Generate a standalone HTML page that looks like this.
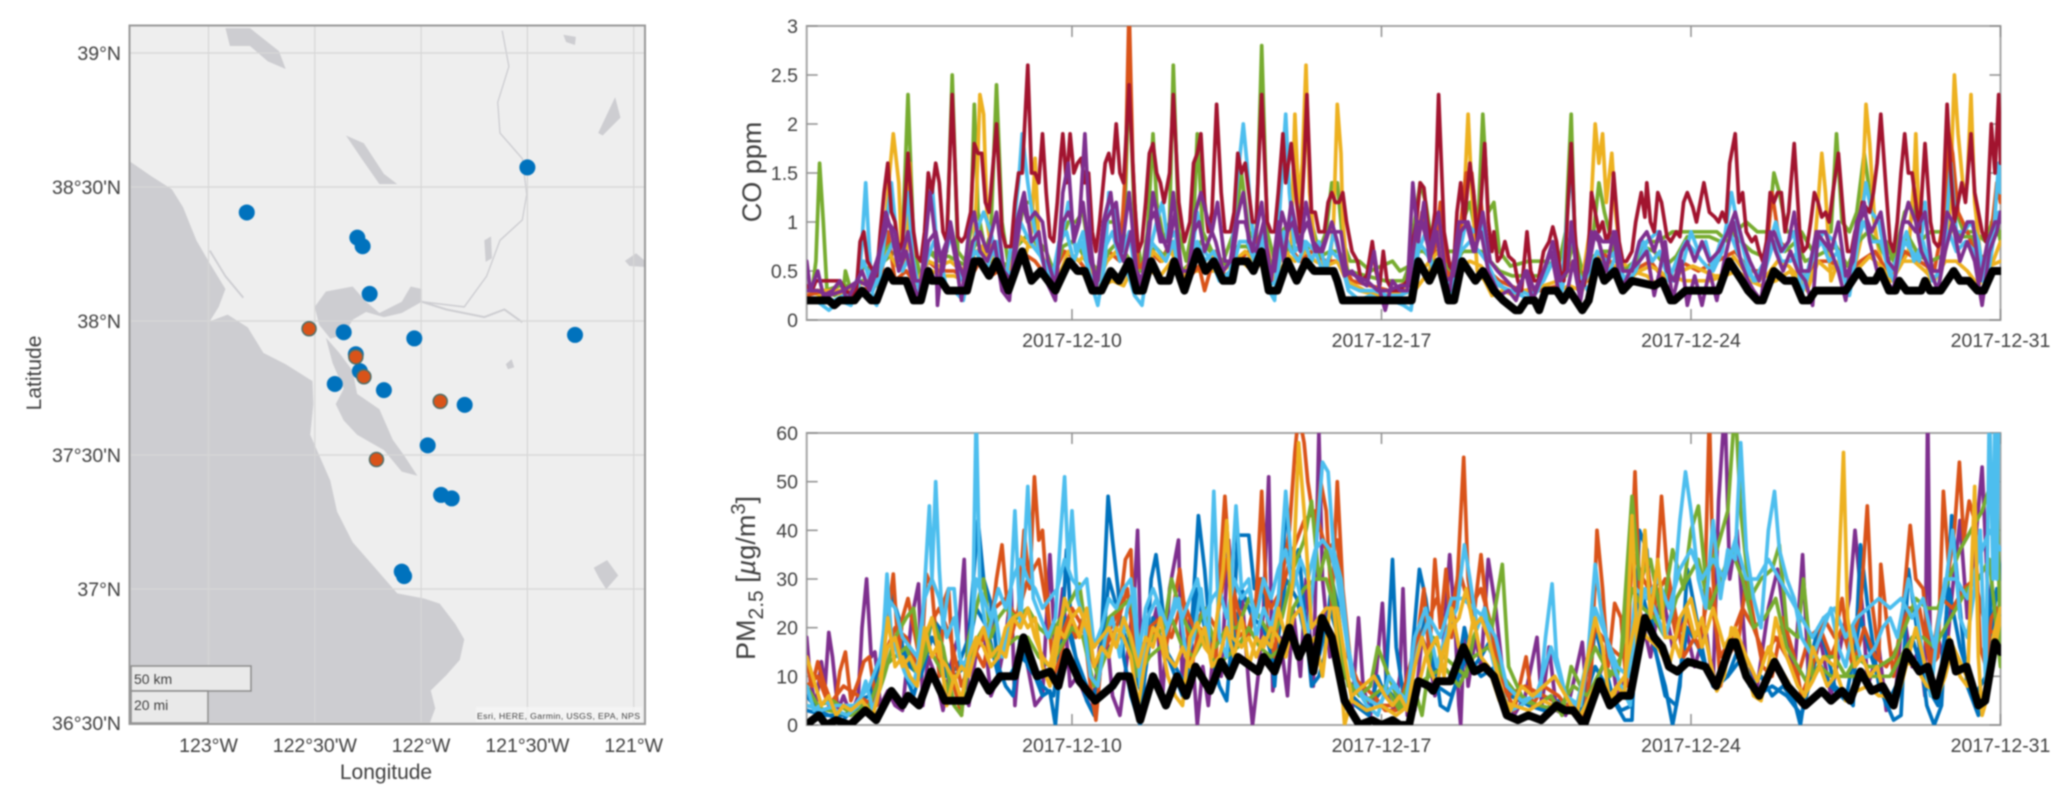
<!DOCTYPE html>
<html lang="en">
<head>
<meta charset="utf-8">
<title>Bay Area monitoring sites with CO and PM2.5 time series</title>
<style>
html,body{margin:0;padding:0;background:#fff;width:2067px;height:802px;overflow:hidden}
#figure{display:block;filter:blur(.9px)}
text{font-family:"Liberation Sans",Arial,sans-serif;fill:#404040}
</style>
</head>
<body>
<svg id="figure" xmlns="http://www.w3.org/2000/svg" width="2067" height="802" viewBox="0 0 2067 802">
<defs>
<clipPath id="map-clip"><rect x="130" y="26" width="515" height="698"/></clipPath>
<clipPath id="co-clip"><rect x="807" y="26" width="1194" height="294"/></clipPath>
<clipPath id="pm-clip"><rect x="807" y="433" width="1194" height="292"/></clipPath>
</defs>
<g id="map-panel">
<rect x="130" y="26" width="515" height="698" fill="#eeeeee"/>
<g clip-path="url(#map-clip)">
<g transform="scale(0.4464,0.5115)" fill="#cdcdd1" stroke="none">
<polygon points="290,315 340,345 385,370 410,405 440,470 470,515 505,565 490,600 470,628 510,615 555,640 590,690 640,712 700,745 702,790 695,850 715,890 740,940 755,1000 790,1060 840,1110 890,1160 950,1170 985,1180 1020,1220 1040,1250 1030,1290 1000,1320 965,1350 975,1385 960,1420 290,1420"/>
<polygon points="705,600 730,570 790,560 820,590 850,612 900,590 920,560 945,565 945,590 900,612 860,620 820,610 790,625 770,655 740,662 715,635"/>
<polygon points="730,660 760,690 790,725 800,770 850,800 880,860 905,890 935,930 900,922 860,880 800,850 770,822 752,790 770,760 745,710"/>
<polygon points="505,55 560,55 625,100 640,135 600,120 560,90 515,90"/>
<polygon points="775,265 815,280 860,340 890,360 850,360 810,310"/>
<polygon points="1340,260 1378,190 1390,230 1350,265"/>
<polygon points="1262,68 1290,72 1288,88 1268,82"/>
<polygon points="1400,510 1425,495 1445,510 1445,522 1410,520"/>
<polygon points="1330,1110 1360,1095 1385,1125 1358,1152 1342,1130"/>
<polygon points="1085,470 1100,462 1102,505 1088,512"/>
<polygon points="1133,712 1146,702 1152,718 1138,722"/>
<polyline fill="none" stroke="#cdcdd1" stroke-width="3" points="1125,60 1140,130 1115,200 1120,260 1170,310 1180,380 1170,430 1120,470 1090,540 1040,600 945,590"/>
<polyline fill="none" stroke="#cdcdd1" stroke-width="4" points="945,590 1000,605 1085,620 1130,605 1170,630"/>
<polyline fill="none" stroke="#cdcdd1" stroke-width="4" points="470,490 505,540 545,582"/>
</g>
</g>
<g id="map-grid"></g>
<g id="map-sites" clip-path="url(#map-clip)"></g>
<g>
<rect x="131" y="666" width="120" height="25" fill="#e9e9e9" stroke="#8c8c8c" stroke-width="1.5"/>
<text x="134" y="684" font-size="14">50 km</text>
<rect x="131" y="691" width="77" height="32" fill="#e9e9e9" stroke="#8c8c8c" stroke-width="1.5"/>
<text x="134" y="710" font-size="14">20 mi</text>
</g>
<rect x="476" y="707" width="166" height="15" fill="#f5f5f5" opacity=".8"/>
<text x="477" y="719" font-size="8.7" textLength="163">Esri, HERE, Garmin, USGS, EPA, NPS</text>
<rect x="129.5" y="25.5" width="515.5" height="698.5" fill="none" stroke="#999" stroke-width="2"/>
<text x="386" y="779" font-size="21" text-anchor="middle">Longitude</text>
<text transform="translate(41,373) rotate(-90)" font-size="21" text-anchor="middle">Latitude</text>
</g>
<g id="co-panel"></g>
<g id="pm-panel"></g>
<text transform="translate(761,172) rotate(-90)" font-size="27" text-anchor="middle">CO ppm</text>
<text transform="translate(755,578) rotate(-90)" font-size="27" text-anchor="middle">PM<tspan dy="8" font-size="21">2.5</tspan><tspan dy="-8"> [</tspan><tspan font-style="italic">µ</tspan><tspan>g/m</tspan><tspan dy="-10" font-size="20">3</tspan><tspan dy="10">]</tspan></text>
</svg>
<script>
// ---------- Map data (degrees) ----------
const lonTicks = [-123, -122.5, -122, -121.5, -121];
const lonTickLabels = ["123°W", "122°30'W", "122°W", "121°30'W", "121°W"];
const latTicks = [39, 38.5, 38, 37.5, 37, 36.5];
const latTickLabels = ["39°N", "38°30'N", "38°N", "37°30'N", "37°N", "36°30'N"];
const blueSiteLon = [-121.50, -122.82, -122.30, -122.275, -122.242, -122.364, -122.032, -121.276, -122.307, -122.288, -122.406, -122.175, -121.795, -121.969, -121.906, -121.856, -122.091, -122.08];
const blueSiteLat = [38.573, 38.405, 38.311, 38.279, 38.101, 37.958, 37.935, 37.948, 37.876, 37.813, 37.765, 37.742, 37.687, 37.536, 37.351, 37.338, 37.065, 37.048];
const orangeSiteLon = [-122.527, -122.307, -122.269, -121.910, -122.210];
const orangeSiteLat = [37.971, 37.866, 37.792, 37.700, 37.483];

// ---------- Time axis (hours since 2017-12-04 00:00) ----------
const timeTicks = [144, 312, 480, 648];
const timeTickLabels = ["2017-12-10", "2017-12-17", "2017-12-24", "2017-12-31"];
const coTicks = [0, 0.5, 1, 1.5, 2, 2.5, 3];
const coTickLabels = ["0", "0.5", "1", "1.5", "2", "2.5", "3"];
const pmTicks = [0, 10, 20, 30, 40, 50, 60];
const pmTickLabels = ["0", "10", "20", "30", "40", "50", "60"];

// ---------- CO series: alternating hour, ppm ----------
const coGreen = [0,.3,3,.3,5,.6,7,1.6,9,1.0,11,.3,15,.25,20,.3,21,.5,24,.3,30,.4,36,.4,42,.6,48,.7,52,.8,55,2.3,58,.8,62,.4,66,.7,72,.6,76,.7,79,2.5,82,.7,86,.6,89,.9,91,2.2,93,1.1,97,.7,100,.9,103,2.4,106,1.0,110,.5,114,.8,118,1.2,122,1.2,126,.8,130,.7,134,.5,138,.8,142,1.0,146,1.0,150,1.1,154,.6,158,.5,162,1.0,168,1.0,172,.7,175,2.5,178,1.0,182,.5,185,.9,188,1.9,190,1.2,194,.8,197,1.0,199,2.6,202,.9,206,.6,210,1.0,212,1.9,215,.9,220,.7,226,.6,232,.9,236,1.5,240,.9,244,.8,247,2.8,250,.9,254,.6,258,.9,262,1.0,266,.8,268,1.0,271,2.4,274,1.0,278,.7,282,.9,285,1.4,288,1.4,291,.8,295,.6,300,.6,306,.5,312,.55,318,.6,322,.5,327,.55,330,1.0,333,1.4,336,1.2,340,.7,346,.7,352,.7,356,1.0,360,1.2,364,.8,367,2.1,370,1.1,373,1.2,376,.7,382,.55,392,.6,400,.6,408,.55,412,.9,415,2.1,417,.8,421,.5,426,.7,430,1.4,433,1.1,437,.8,442,.5,450,.6,456,.8,462,.8,470,.9,478,.9,486,.9,494,.9,500,.8,504,.9,510,1.0,516,.9,522,.9,525,1.5,528,1.3,532,.9,536,.9,540,.9,546,.7,552,.9,556,.9,559,1.9,562,1.0,566,.9,570,1.1,574,1.7,577,1.3,581,.8,586,.8,590,.6,596,1.1,600,1.2,604,.8,610,.9,616,.9,621,1.8,624,1.1,628,.9,634,.9,640,.8,645,1.1,648,.8];
const coYellow = [0,.3,8,.25,14,.3,20,.25,30,.3,38,.35,42,.8,45,1.5,47,1.9,50,1.4,52,.5,54,.6,56,1.6,58,.5,62,.3,68,.5,74,.45,80,.45,86,.4,90,.5,92,1.2,94,2.3,96,2.1,98,1.0,102,.5,106,.5,112,.6,118,.6,122,.9,124,1.65,126,.8,130,.5,136,.35,142,.6,148,.5,154,.4,160,.35,166,.4,172,.35,176,.5,180,.3,186,.5,192,.45,198,.6,204,.4,210,.5,216,.5,222,.5,228,.45,236,.6,242,.5,248,.6,254,.4,260,.6,263,.8,265,2.1,267,1.2,269,1.6,271,2.6,273,1.3,276,.7,280,.6,284,.6,286,1.0,288,2.2,290,1.7,291,1.0,294,.4,300,.3,310,.25,320,.25,330,.3,338,.5,343,.9,348,.3,352,.35,356,.9,359,2.1,361,1.3,364,.5,368,.4,372,.25,378,.3,384,.25,392,.3,400,.35,408,.3,414,.35,420,.3,425,.9,428,2.0,430,1.6,432,1.9,434,1.2,437,1.7,439,1.1,442,.6,448,.5,456,.45,462,.35,470,.45,476,.4,484,.4,490,.4,498,.45,505,.5,512,.4,518,.35,526,.4,534,.5,540,.3,546,.5,549,1.2,551,1.7,553,1.3,556,.4,560,.6,566,.3,572,.8,575,2.2,577,1.8,580,.9,586,.35,592,.5,598,.7,601,1.4,602,1.9,604,.9,610,.4,616,.5,620,.9,623,2.5,625,1.9,628,1.3,630,1.4,632,2.3,634,1.2,638,.5,644,.6,648,.8];
const coOrange = [0,.25,10,.3,20,.3,30,.3,40,.4,44,.9,48,.4,54,.5,60,.35,66,.6,72,.5,80,.5,88,.4,94,.6,100,.45,108,.55,116,.7,124,.6,132,.4,140,.7,148,.6,156,.4,164,.7,170,.6,173,1.5,175,3.2,177,1.6,180,.5,186,.7,192,.6,198,.8,206,.4,213,.55,216,.3,222,.7,228,.4,234,.6,240,.7,248,.9,254,.4,260,.8,268,.6,274,.7,282,.6,290,.6,296,.4,306,.35,316,.3,328,.4,334,1.1,340,.6,344,1.2,348,.4,354,.8,358,1.5,361,1.5,364,.9,366,1.2,370,.5,376,.4,388,.3,398,.3,408,.35,416,.6,424,.4,432,.7,440,.5,448,.5,458,.6,466,.4,474,.6,484,.5,494,.6,504,.7,512,.5,520,.5,524,1.3,528,.8,534,.7,540,.4,548,.6,556,.6,564,.45,572,.6,580,.7,588,.45,596,.7,604,.6,612,.5,617,1.0,620,1.9,622,1.7,625,1.1,630,.9,636,.6,642,.7,646,1.4,648,1.2];
const coCyan = [0,.2,5,.2,12,.1,18,.2,24,.15,28,.3,30,.8,32,1.4,34,.7,36,.2,38,.15,42,.8,44,1.1,46,1.4,48,1.0,50,.5,52,.8,55,1.3,58,.5,62,.25,66,1.2,68,1.4,70,.9,73,.6,76,.3,80,.3,85,.2,88,.5,92,.9,96,1.1,100,.9,104,.5,108,.4,112,.9,115,1.4,117,1.9,120,1.4,123,1.0,126,.7,130,.5,134,.3,138,.8,142,1.2,146,.7,150,.9,154,.4,158,.15,162,.6,164,1.3,167,1.1,170,.8,174,.5,178,.25,182,.15,186,.7,190,1.0,193,1.2,196,.8,200,.9,204,.3,208,.5,212,1.1,216,.7,220,.6,224,.4,230,.5,233,1.3,237,2.0,239,1.6,241,1.1,244,.6,248,.9,251,.3,254,.2,257,1.2,260,2.1,262,1.3,265,.7,270,.8,274,.6,278,.8,282,.5,286,.9,290,.6,294,.3,300,.2,306,.25,312,.2,318,.2,324,.15,328,.1,332,.7,336,.9,340,.5,344,.5,348,.2,352,.5,358,1.0,362,.9,366,1.0,370,.5,376,.35,382,.3,388,.25,392,.2,397,.3,404,.7,410,.4,415,1.6,418,.5,424,.3,430,.6,436,.5,440,.7,444,.35,450,.5,456,.8,462,.9,466,.7,470,.4,476,.6,480,.9,484,.7,488,.8,492,.5,497,.7,502,1.3,506,.9,510,.6,514,.4,520,.6,526,1.0,530,.7,536,.9,540,.25,546,.7,552,.9,558,.8,562,.5,566,.25,570,.7,575,1.4,578,1.1,582,1.0,586,.6,590,.4,596,.8,600,.7,604,.6,607,1.2,610,.5,614,.3,618,.8,621,1.6,624,.9,628,.9,632,1.0,636,.8,640,.3,644,.8,647,1.6,648,1.3];
const coDarkRed = [0,.35,3,.3,5,.4,8,.4,12,.4,18,.4,21,.3,25,.25,27,.3,29,.8,31,.9,33,.6,36,.5,38,.45,40,.9,42,1.3,44,1.6,46,1.1,48,1.0,50,.7,52,.8,55,1.7,58,.9,60,.65,62,.6,64,.9,66,1.5,68,1.3,70,1.6,72,1.4,74,.9,76,.8,79,2.3,82,.85,84,.8,86,.85,89,1.1,91,1.8,93,1.7,95,1.7,97,1.2,99,1.1,103,2.0,106,.9,108,.75,111,.75,113,1.2,115,1.5,117,1.5,120,2.6,122,1.5,124,1.5,126,1.4,128,1.9,130,1.3,132,.85,134,.8,136,1.2,138,1.7,139,1.9,141,1.4,143,1.9,145,1.5,147,1.6,149,1.65,151,1.4,153,1.5,155,.9,157,.7,159,1.0,162,1.6,164,1.7,166,1.5,168,2.0,170,1.5,172,1.4,175,2.4,178,1.2,180,.7,182,.8,184,1.2,186,1.7,188,1.8,190,1.5,192,1.4,194,1.2,197,1.5,199,2.3,202,1.2,205,.8,208,1.0,210,1.6,212,1.7,214,1.9,216,1.2,218,.9,220,1.1,222.5,2.2,225,1.3,227,.9,230,.9,232,1.1,234,1.7,236,1.5,238,1.6,240,1.3,242,1.0,244,1.0,247,2.3,250,1.0,252,.9,254,.9,256,1.3,258.5,1.9,260,1.4,263,1.8,266,1.2,268,.9,270,1.6,271.5,2.3,274,1.1,276,1.1,278,.9,281,.9,283,1.2,285,1.3,287,1.2,289,1.2,291,1.3,293,1.0,296,.7,299,.6,301,.4,304,.45,307,.8,309,.5,311,.35,313,.7,315,.4,318,.3,322,.3,326,.4,329,.8,331,1.0,333,1.4,335,1.35,337,1.0,339,.8,341,1.1,343,2.3,346,.9,349,.55,351,.5,353,1.1,355,1.4,357,1.0,360,1.6,362,1.3,364,.8,366,1.2,368,1.8,370,1.0,372,.7,373,.9,375,.6,377,.65,379,.8,381,.65,384,.6,386,.4,388,.3,391,.9,393,.5,395,.4,397,.4,400,.7,403,.8,405,.95,407,.8,409,.5,411,.4,413,1.1,415,1.8,417,.9,419,.4,422,.35,424,.6,426,1.3,428,1.1,430,.9,432,1.0,434,.8,436,.9,438,1.5,441,.8,443,.6,445,.6,448,.7,450,1.0,453,1.3,455,1.05,456,1.4,458,1.0,460,.9,462,1.3,464,1.2,467,.85,469,.8,472,.9,474,.85,476,1.2,478,1.3,481,1.15,483,1.0,485,1.2,487,1.4,490,1.1,493,1.05,495,1.0,497,1.1,499,1.0,501,1.6,504,1.9,506,1.2,508,1.3,510,.9,513,.8,515,.85,517,.7,519,.6,521,.8,523,1.3,525,1.2,527,1.3,529,1.3,531,.9,533,1.1,536,1.8,539,.9,541,.7,543,.75,545,1.0,547,1.3,549,1.2,551,1.05,553,1.1,555,1.0,557,1.3,560,1.7,563,1.0,565,.7,567,.7,569,.9,571,1.0,573,1.2,575,1.15,577,1.1,579,1.3,581,1.6,583,2.1,586,1.3,588,.8,590,.7,592,1.0,594,1.5,596,1.9,598,1.5,600,1.5,602,1.2,604,.9,607,1.8,610,1.0,612,.8,614,.75,616,.8,619,2.2,621,1.5,623,1.0,625,1.2,627,1.4,629,1.2,632,1.9,634,1.3,636,1.1,638,.9,640,.8,643,2.0,645,1.5,647,2.3,648,1.6];
const coPurple = [0,.6,2,.3,6,.5,9,.25,14,.3,18,.4,22,.2,26,.35,30,.5,34,.3,38,.5,43,1.1,46,.9,50,.5,54,.7,58,.35,61,.2,65,.9,67,1.3,70,.8,71,.15,74,.7,78,.9,81,.6,84,.2,88,.9,91,1.1,94,.7,98,.6,102,.8,106,.3,110,.2,114,1.0,118,1.3,122,.8,126,.9,130,.4,135,.2,139,1.3,142,1.6,145,.8,148,1.0,151,1.9,154,.8,157,.3,161,1.0,165,1.3,168,.8,172,.6,176,.9,180,.35,184,.5,188,1.3,192,.9,196,.7,200,1.1,204,.4,207,.35,211,1.1,214,1.3,218,1.0,222,.8,226,.5,230,.6,233,1.0,237,1.3,240,.8,244,.7,248,1.0,252,.4,256,1.0,259,.6,263,1.2,267,.8,272,1.0,276,.7,280,.7,285,1.0,288,.8,292,.45,296,.5,300,.4,304,.35,308,.7,311,.3,314,.1,318,.4,322,.3,326,.3,329,1.4,332,.8,335,1.2,338,.6,342,.9,345,.4,349,.3,354,1.0,358,1.0,362,.7,366,.9,370,.5,376,.25,381,.3,385,.2,390,.5,394,.2,400,.5,404,.7,408,.3,412,.2,416,.6,420,.2,426,.9,430,.8,434,.5,438,.9,442,.3,447,.5,452,.6,456,.7,460,.25,463,.5,466,.8,470,.2,475,.6,478,.15,482,.45,486,.15,490,.5,494,.2,498,.6,503,1.0,507,.6,511,.4,514,.3,518,.2,523,.9,526,.7,530,.5,534,.7,538,.5,542,.4,546,.15,549,.9,553,.9,556,.7,560,.5,564,.2,570,1.0,574,1.2,577,.8,581,.5,586,.4,590,.3,594,.9,598,1.2,602,1.0,605,.7,610,.5,614,.3,618,.7,622,1.0,626,.6,630,.8,634,.6,638,.15,642,.7,646,.9,648,1.1];
const coPurpleBand = [0,.3,6,.3,12,.25,20,.3,28,.4,33,.35,38,.6,44,1.0,48,.9,51,.6,55,.9,59,.4,63,.4,66,.8,70,.9,74,.5,78,1.0,82,.6,86,.4,90,.8,94,.9,98,.7,103,1.1,107,.5,111,.4,115,.9,117,1.2,120,1.0,124,1.1,128,1.0,131,.6,135,.35,139,1.0,142,1.1,146,.9,150,1.2,154,.6,158,.4,162,1.0,165,1.1,168,1.2,171,.7,175,1.3,179,.5,182,.4,186,1.0,189,1.1,192,.8,196,.8,199,1.3,203,.5,207,.5,210,.9,213,1.0,216,.7,220,.9,223,1.2,227,.6,231,.6,234,1.0,238,1.0,242,.7,247,1.2,251,.5,254,.5,258,1.1,261,.9,264,1.0,268,.7,271,1.2,275,.8,279,.7,283,.9,286,.9,290,.9,293,.5,298,.45,304,.4,310,.3,316,.3,322,.35,327,.35,331,1.0,334,1.0,338,.7,343,1.1,347,.4,351,.45,355,.9,359,1.0,363,.7,367,1.1,371,.6,375,.5,380,.4,385,.3,391,.5,395,.3,400,.5,405,.8,409,.4,413,.5,415,1.0,419,.3,424,.5,428,.9,432,.8,436,.8,439,.9,443,.5,448,.5,452,.8,456,.9,460,.7,463,.9,467,.5,471,.4,475,.7,478,.8,482,.6,486,.8,490,.6,495,.7,500,.9,504,1.1,508,.8,512,.6,517,.4,522,.8,525,.9,529,.7,533,.8,536,1.1,540,.5,544,.5,548,.9,552,.8,556,.7,560,1.0,564,.45,568,.6,571,1.0,574,1.1,578,.9,583,1.1,587,.6,591,.5,595,1.0,598,1.0,602,.9,607,1.1,611,.5,615,.5,619,1.1,622,1.0,626,.8,630,1.0,633,1.0,637,.4,641,.8,645,1.0,648,1.0];
const coCyanBand = [0,.22,7,.2,15,.2,25,.3,31,.6,36,.3,42,.6,47,.8,52,.5,57,.7,61,.3,65,.6,69,.8,74,.6,79,.9,83,.4,88,.6,92,.7,97,.5,103,.8,107,.45,112,.5,116,1.0,121,.8,125,.7,129,.6,133,.4,137,.8,141,.9,145,.6,149,.8,153,.5,157,.3,161,.7,166,.9,170,.6,175,.9,179,.4,183,.35,187,.8,191,.7,195,.6,199,.8,203,.4,207,.4,212,.8,216,.6,221,.7,226,.4,231,.5,235,.8,239,.8,243,.6,247,.9,251,.35,255,.4,259,.9,263,.7,267,.6,271,.8,276,.7,280,.5,285,.7,290,.6,294,.35,300,.3,308,.3,315,.25,322,.25,328,.3,332,.8,336,.7,341,.5,345,.5,350,.3,355,.7,360,.8,365,.7,369,.6,374,.4,380,.3,387,.3,393,.25,400,.4,405,.6,410,.3,415,.9,420,.3,425,.5,429,.7,434,.6,439,.7,444,.4,449,.6,454,.8,459,.6,463,.7,468,.4,472,.6,477,.8,482,.7,486,.6,491,.5,496,.8,501,.9,505,.7,510,.5,515,.4,520,.5,525,.8,529,.6,534,.6,538,.7,542,.35,547,.7,551,.8,555,.6,560,.7,565,.35,570,.8,574,1.0,578,.8,583,.8,588,.45,593,.7,597,.9,601,.6,606,.8,611,.4,615,.5,620,.9,624,.7,629,.8,634,.7,638,.4,643,.8,647,1.1,648,1.0];
const coGreenBand = [0,.3,10,.3,18,.35,26,.35,31,.55,36,.5,42,.7,47,.8,53,.7,58,.55,62,.45,67,.7,72,.65,77,.65,82,.6,87,.55,92,.8,97,.65,102,.7,108,.55,114,.75,119,.85,124,.8,129,.6,134,.45,139,.75,144,.8,149,.7,154,.5,159,.45,164,.7,169,.8,174,.65,179,.5,184,.5,189,.75,194,.65,199,.8,204,.5,209,.6,214,.8,219,.7,224,.6,229,.55,234,.75,239,.75,244,.65,249,.7,254,.5,259,.7,264,.75,269,.7,274,.75,279,.65,284,.7,289,.7,294,.5,304,.45,314,.4,324,.4,330,.7,335,.7,340,.6,345,.6,350,.5,356,.7,361,.7,366,.7,371,.6,376,.5,383,.45,391,.45,399,.45,406,.6,412,.45,416,.8,421,.4,427,.65,432,.7,437,.7,442,.5,448,.55,454,.75,460,.7,466,.55,472,.65,478,.85,484,.85,490,.85,496,.8,502,.9,507,.8,513,.7,519,.65,525,.8,531,.7,537,.8,542,.6,548,.65,553,.7,559,.75,565,.55,571,.8,576,.9,581,.8,587,.6,593,.75,598,.85,604,.65,610,.6,616,.65,622,.95,627,.85,633,.85,639,.5,644,.85,648,.9];
const coYellowBand = [0,.3,12,.3,24,.3,32,.4,38,.4,44,.7,49,.55,55,.65,60,.4,66,.6,72,.55,78,.6,84,.5,90,.65,95,.75,100,.6,105,.55,110,.5,116,.85,121,.75,126,.75,131,.5,136,.4,142,.7,148,.6,152,.7,157,.35,163,.6,168,.7,174,.6,178,.4,183,.4,188,.7,193,.6,198,.7,204,.4,210,.7,215,.6,220,.65,226,.5,232,.6,238,.7,243,.6,248,.75,253,.4,259,.7,265,.6,271,.7,276,.6,282,.55,288,.6,293,.4,303,.3,313,.25,323,.3,330,.55,336,.55,343,.7,348,.3,354,.55,360,.6,366,.55,372,.4,380,.3,390,.3,400,.35,408,.4,416,.55,421,.3,428,.65,434,.55,440,.55,445,.4,452,.5,458,.55,463,.5,469,.4,475,.5,481,.55,487,.5,493,.45,499,.45,503,.65,509,.5,515,.4,521,.45,527,.6,533,.55,538,.45,543,.3,549,.6,555,.5,561,.6,566,.4,572,.55,577,.65,583,.55,589,.4,595,.6,601,.6,607,.5,612,.4,618,.6,624,.6,630,.5,636,.35,642,.55,648,.6];
const coBlack = [0,.2,12,.2,15,.15,18,.2,26,.2,30,.3,35,.2,38,.2,44,.5,47,.4,54,.4,58,.2,62,.2,66,.5,68,.4,73,.4,76.5,.3,87,.3,91,.6,94,.6,99,.45,103,.6,109.5,.3,117,.7,122,.4,127,.5,135,.3,142.5,.6,147,.5,151,.5,155,.3,160,.3,165,.5,169.5,.4,175,.6,179,.3,182.5,.3,187,.6,192,.4,196.6,.4,199.5,.6,205,.3,212,.7,216.6,.5,221,.6,226,.4,231,.4,233,.6,239,.6,242.5,.5,246.8,.7,250.8,.3,255.5,.3,261,.6,266,.4,271,.6,275.5,.5,286,.5,288,.4,291,.2,328.4,.2,332,.6,338,.4,343,.6,348.3,.2,351.4,.2,355.8,.6,363,.4,367,.5,373,.3,378,.2,384.7,.1,387,.1,390.5,.2,395,.2,397.6,.1,401,.3,407,.3,410.5,.2,414,.3,417.5,.2,421,.1,424.5,.2,429,.6,433,.4,438.6,.5,443,.3,448,.4,460,.35,464.4,.4,469,.2,471,.2,477,.3,495,.3,500.7,.6,507.7,.4,511,.3,516,.2,519,.2,525,.5,531,.4,536,.4,540.6,.2,544,.2,547.6,.3,564,.3,571,.5,574.6,.4,580,.4,582.8,.5,587.5,.3,591,.3,593,.4,597,.3,605,.3,607,.4,609.7,.3,615.6,.3,622.6,.5,626,.4,630.8,.4,635.5,.3,639,.3,643.7,.5,648,.5];

// ---------- PM2.5 series: alternating hour, ug/m3 ----------
const pmPurple = [0,18,2,9,5,4,8,13,10,8,12,19,14,14,17,3,20,6,24,2,28,6,30,20,32.5,30,35,14,37,15,40,4,44,7,48,4,52,3,57,22,60.7,29,63,4,66,14,70,10,74,3,78,12,82,18,85.5,34,88,4,92,15,96,20,100,6,104,10,108,18,111,28,113,4,116,18,120,12,124,4,128,6,132,35,135,14,139,28,143,8,147,10,151,6,155,3,159,16,163,18,166,6,170,2,174,14,178,28,179.6,40,182,8,186,18,190,24,193,5,197,28,201.8,38,204,8,208,22,212,0,215,12,218,4,221,16,225,10,229,38,233,18,236,28,240,8,242,0,245,10,248,24,250.8,51,253,7,257,18,261,6,264,24,268,10,271,30,275,8,278,60,280,30,284,14,288,18,292,6,296,3,299.5,22,302,8,306,2,309,10,312.5,25,315,6,319,3,322,10,323.7,28,326,2,330,3,334,18,338,14,341,6,345,14,349,35,352,20,354,4,355,0,357,20,359,8,363,18,366,12,370,34,374,24,378,10,384,2,390,6,396.4,18,399,4,403,16,407,3,412,2,417,10,421,17,424,3,430,10,436,16,440,6,446,12,452,24,458,14,464,28,470,16,476,22,482,12,488,20,492,8,495,46,498.4,66,501,30,505,40,510,12,516,8,522,24,527,32,532,18,536,10,540.6,35,544,8,550,18,556,6,562,18,566,26,569,40,573,24,576,8,582,16,586,3,591,6,595,24,600,12,604,16,607,6,608.5,66,610,10,614,18,618,12,622,28,626,42,630,22,634,36,638,53,641,28,644,18,648,26];
const pmBlue = [0,6,6,3,12,2,20,1,28,5,34,6,40,12,46,27,50,22,54,10,58,6,64,14,68,22,72,20,76,10,82,12,88,18,93,42,96,30,100,25,104,12,108,8,112,6,116,18,120,12,124,10,128,6,132,7,135,0,138,14,141,36,144,18,148,10,152,5,156,2,160,18,163.6,47,166,38,169,28,172,14,176,6,181,0,184,12,187,30,189.6,35,192,28,196,14,200,10,204,6,208,14,212.6,43,216,32,220,14,224,8,228,5,232,24,234,39,240,39,243,28,247,30,250,22,254,8,258,28,260,47,263,32,267,36,270,24,274,8,278,10,281,14,285,30,288,25,292,12,298,4,305,2,310,10,314,6,318,34,320,16,324,6,328,12,332.6,32,336,26,339,18,344,4,348,3,352,8,357,20,362,12,366,14,372,18,376,10,384,6,392,4,400,3,408,5,416,3,424,6,428,20,432,14,438,5,444,1,448,1,452,40,456,36,460,16,466,8,470,0,474,8,478,32,483,22,488,12,494,8,500,10,506,16,512,8,518,10,524,6,530,8,536,5,539.4,0,544,12,549,20,553,16,558,8,564,6,568,4,572,37,576,24,582,8,590,1,594,2,598,32,604,16,608,4,612,0,616,4,621.5,43,625,28,630,8,636,2,640,6,645,42,648,30];
const pmBlueBand = [0,3,10,2,20,2,30,4,38,6,44,16,50,18,56,12,62,10,68,18,74,14,80,10,86,12,92,24,98,20,104,10,110,10,116,14,122,12,128,8,134,6,140,22,146,14,152,8,158,6,164,30,170,22,176,14,182,6,188,22,194,16,200,12,206,8,212,28,218,16,224,12,230,10,236,28,242,22,248,20,254,12,260,30,266,26,272,16,278,14,284,24,290,16,296,6,304,3,314,8,322,4,330,14,336,22,342,8,350,6,358,14,366,10,374,12,382,6,392,4,402,3,412,4,420,3,428,12,434,8,442,3,448,4,453,28,458,20,466,6,472,4,478,20,484,16,492,8,500,10,508,14,516,6,524,8,532,6,540,2,548,14,556,8,564,5,572,22,578,14,586,4,594,10,600,18,608,8,614,4,620,28,626,16,634,6,640,10,646,28,648,24];
const pmOrange = [0,13,3,8,6,13,9,9,12,6,15,3,18,11,21,15,24,5,28,9,31,13,34,14,38,4,42,16,47,31,50,14,52,22,55,26,58,20,62,12,65,31,68,28,72,10,75,26,77,28,80,8,84,2,88,18,92,15,96,12,100,20,103,30,106,37,108,28,111,18,115,24,118,40,121,28,123.6,51,126,38,128,40,131,24,134,10,138,14,142,22,146,18,150,22,154,8,157,1,160,14,165,20,170,24,173,34,176,36,178,16,182,10,186,18,190,20,194,14,198,22,202.5,32,205,24,209,12,213,20,218,18,222,12,224,30,227,47,230,30,234,18,240,20,244,26,247,48,250,22,254,14,258,30,262,40,265,56,267,64,270,58,272,50,276,40,279,50,282,44,285,24,288,50,291,28,296,10,302,8,308,6,314,3,320,3,326,8,330,14,335,28,338,14,341,34,344,20,347,32,350,18,353,28,356.6,55,359,30,362,22,366,35,369,24,372,18,377,10,384,3,390.5,14,394,4,400,8,408,6,414,3,422,2,426,12,429,40,432,28,435,12,438.6,25,442,22,445,8,449.6,52,452,28,456,34,460,22,464,47,467,32,471,24,476,14,482,18,487,20,490,64,492,30,496,8,500,14,506,18,510,30,514,22,519,12,524,10,530,22,536,14,540,6,546,12,552,22,558,18,562,26,566,14,572,24,575.7,45,578,26,582,14,583,33,586,22,590,10,595,24,599,41,602,30,606,28,610,12,614,14,617,48,620,32,623,40,625.7,54,628,38,631,46,634,42,637,16,640,12,643,22,646,24,648,20];
const pmOrangeBand = [0,8,6,10,12,4,20,8,28,6,36,4,42,14,48,20,54,18,60,12,66,20,72,24,78,18,84,8,90,14,96,18,102,24,108,26,114,22,120,30,126,34,132,20,138,18,144,24,150,20,156,12,162,16,168,20,174,28,180,10,186,20,192,22,198,18,204,26,210,20,216,24,222,20,228,34,234,24,240,18,246,30,252,24,258,28,264,36,270,42,276,44,282,36,288,38,294,14,302,6,312,4,322,4,330,16,336,20,342,26,348,18,354,32,360,24,366,28,372,20,380,6,390,8,400,6,410,4,420,4,428,20,436,16,442,14,448,36,454,30,460,26,466,30,472,18,478,22,484,16,490,28,496,14,502,18,508,24,514,20,520,14,526,18,532,14,538,10,544,18,550,20,556,14,562,20,568,12,574,20,580,14,586,12,592,16,598,24,604,24,610,12,616,26,622,24,628,28,634,30,640,20,648,18];
const pmGreen = [0,8,6,4,14,5,22,3,30,4,36,3,42,10,48,18,54,22,58,24,62,12,68,22,74,16,80,4,84,2,88,18,92,24,96,30,100,18,104,22,108,24,114,22,120,24,126,20,132,18,138,22,144,26,148,29,152,18,158,10,164,22,170,24,176,26,182,14,188,18,194,20,198,30,204,22,210,18,216,24,222,16,228,20,234,20,240,26,246,22,252,18,258,22,264,32,270,38,274,46,278,30,282,36,286,28,292,10,300,6,306,8,310,16,316,10,322,4,328,10,334,2,340,18,346,14,352,12,358,10,362,18,368,24,372,20,377.6,33,381,12,388,6,396,4,404,6,410,2,415,12,420,8,428,16,436,10,442,14,448,47,452,30,458,34,464,22,470,36,476,28,480,40,484,45,488,30,494,36,500,44,504,66,507,44,512,26,518,30,524,32,528,37,532,20,538,18,541,30,546,10,552,14,558,14,564,10,570,14,576,12,582,12,590,14,596,20,602,26,608,24,614,24,620,30,626,36,632,40,638,44,643,50,646,50,648,14];
const pmGreenBand = [0,4,12,3,24,2,34,4,42,12,48,14,54,16,60,10,66,16,72,12,78,6,84,4,90,16,96,20,102,14,108,16,114,18,120,18,126,14,132,12,138,16,144,20,150,18,156,8,162,14,168,18,174,20,180,10,186,14,192,16,198,22,204,16,210,14,216,18,222,12,228,14,234,16,240,20,246,16,252,14,258,16,264,24,270,28,276,30,282,30,288,22,294,8,304,5,314,8,322,3,330,8,338,10,346,12,354,8,362,14,370,16,378,10,388,5,398,4,408,3,416,8,424,6,432,12,440,10,448,28,454,24,460,22,466,18,472,26,478,30,484,34,490,24,496,30,502,36,508,30,514,20,520,22,526,26,532,16,538,12,544,8,550,12,556,10,562,10,568,10,574,10,580,10,588,10,594,14,600,18,606,18,612,16,618,20,624,24,630,28,636,30,642,34,648,12];
const pmCyan = [0,8,4,3,10,5,16,3,22,2,28,4,32,9,36,3,40,8,43.6,31,46,18,50,14,54,10,58,8,62,16,66.6,45,68,30,70,50,72,32,74,20,77,28,80,28,83,14,87,10,90,20,92,64,94,28,98,18,102,24,106,14,110,22,113,44,116,20,120,49,123,26,127,22,131,18,135,22,138,40,140,51,142,32,144,44,147,26,150,22,154,10,158,8,162,18,166,22,170,14,174,24,178,28,181,8,185,22,190,26,194,18,198,22,202,26,206,14,210,18,214,28,218,16,221,48,224,18,228,14,233,45,236,28,240,30,244,18,248,24,252,20,256,26,260,48,263,34,267,28,272,18,276,34,280,54,283,52,286,36,290,30,294,16,298,8,304,4,310,2,316,10,320,8,325,4,330,18,336,24,342,12,348,20,353,24,357,37,360,30,364,20,368,24,372,14,376,8,382,3,388,4,394,6,398,6,401,18,404.6,29,407,14,412,6,418,4,424,14,428,33,431,24,436,14,442,8,447,4,450,20,455,28,460,24,466,18,470,24,474,42,477,52,480,44,484,30,488,24,492,42,496,26,500,36,504,34,507,58,510,36,514,26,518,20,522,40,525.3,48,528,36,532,30,536,26,540,18,546,14,552,20,556,24,560,16,564,12,568,20,572,14,576,14,580,16,584,20,588,22,592,18,598,30,602,24,606,14,610,6,614,20,618,28,622,40,626,22,630,18,634,28,637,40,640,8,642,66,644,30,645,66,646,30,647,66,648,66];
const pmCyanBand = [0,4,8,3,16,4,26,4,34,8,40,14,44,26,48,24,52,18,56,16,60,14,64,26,68,30,72,26,76,18,80,22,84,12,88,14,92,30,96,26,100,22,104,28,108,24,112,30,116,34,120,30,124,28,128,24,132,26,136,28,140,34,144,30,148,28,152,30,156,16,160,20,164,26,168,24,172,28,176,30,180,14,184,24,188,28,192,24,196,20,200,26,204,22,208,26,212,30,216,22,220,26,224,28,228,22,232,30,236,26,240,28,244,22,248,30,252,26,256,32,260,36,264,28,268,34,272,30,276,36,280,38,284,36,288,30,292,20,296,10,302,6,310,4,318,8,326,5,332,16,338,22,344,18,350,26,356,26,362,24,368,22,374,18,380,8,388,5,396,6,404,16,412,6,420,4,428,24,434,18,440,12,446,10,450,28,456,26,462,30,468,24,474,32,480,36,486,30,492,34,498,30,504,38,510,30,516,30,522,34,528,30,534,26,540,22,546,18,552,22,558,24,564,18,570,22,576,24,582,26,588,24,594,26,600,22,606,26,612,16,618,30,624,30,630,26,636,34,642,40,648,36];
const pmYellow = [0,14,4,9,8,4,12,6,16,2,20,4,24,3,30,5,36,2,40,8,44,22,48,12,52,14,56,10,60,8,64,20,68,14,72,17,76,4,80,10,84,5,88,14,92,18,96,16,100,12,104,14,108,20,112,22,116,23,120,20,124,22,128,12,132,8,136,16,140,26,144,22,148,18,152,24,156,12,160,16,164,14,168,20,172,18,176,14,180,4,184,14,188,20,192,18,196,10,200,6,204,4,208,18,212,21,216,16,220,14,226,32,228,42,231,18,236,16,240,18,244,14,248,18,252,16,256,24,260,18,264,30,267,58,270,44,274,20,278,22,282,24,286,24,290,10,292,0,296,6,302,8,308,10,314,6,318,4,322,6,326,3,330,12,334,18,338,12,342,8,346,16,350,20,354,22,358,28,362,20,366,22,370,18,374,12,378,6,382,3,388,8,394,6,400,8,406,10,412,6,418,2,424,14,428,22,432,16,436,4,440,8,444,6,448,43,451,14,455,40,458,22,462,34,466,18,470,18,474,14,478,24,482,18,486,22,490,14,494,7,498,10,502,20,506,16,510,12,514,6,518,5,522,12,526,22,530,16,534,12,538,8,542,6,546,16,550,12,554,8,558,10,562.8,56,565,22,569,12,573,14,577,10,581,12,585,6,590,4,594,8,598,14,602,20,606,14,610,8,614,6,618,10,622,16,626,10,630,8,634,49,636,14,638,2,641,6,644,18,648,24];
const pmYellowBand = [40,10,44,16,48,18,52,12,56,14,60,11,64,18,68,22,72,14,76,12,80,9,84,12,88,10,92,16,96,20,100,14,104,16,108,14,112,22,116,20,120,24,124,18,128,14,132,12,136,20,140,18,144,22,148,24,152,20,156,16,160,18,164,20,168,16,172,22,176,18,180,12,184,18,188,16,192,22,196,14,200,12,204,16,208,12,212,16,216,20,220,12,224,14,228,20,232,14,236,22,240,12,244,18,248,16,252,20,256,18,260,14,264,22,268,24,272,16,276,18,280,10,284,24,288,24,292,14,296,5,304,3,312,4,320,2,330,5,336,14,342,18,346,10,350,24,354,16,358,14,362,22,366,14,370,12,376,5,384,4,392,3,400,5,410,3,420,2,428,8,436,6,444,10,450,22,456,18,462,16,468,12,474,22,480,26,486,16,492,24,498,16,504,20,510,14,516,9,522,16,528,12,534,8,540,5,546,9,552,14,558,12,564,5,570,7,576,8,582,6,590,6,596,13,602,12,608,8,614,7,620,18,626,13,632,8,638,3,644,14,648,22];
const pmBlack = [0,0,3,1,6.6,2,10.6,0,16,1,23.5,0,31.8,3,37.7,1,46,7,52,4,55,6,61,4,67.6,11,75,5,87,5,93,11,99,7,105,10,113,10,117.7,18,125,10,132,11,136.6,8,141,15,148,9,156.6,5,166,8,169.5,10,175,10,181,1,188,10,195,4,201,10,206,6,211,12,219,7,225,13,229.6,10,234,14,245,11,248,14,254,11,262,20,267.3,14,272,18,275,11,279.7,22,285,18,292,5,300,0,307,1,312,0,318,1,322,0,327,0,332,9,337.8,8,340,7,342.5,9,349.5,9,356.5,16,362.4,11,367.8,12,373,10,380,2,386,1,391.7,2,398.7,1,407,4,411.6,3,416,3,422,0,430.4,9,436,4,442,6,447,6,455,22,460,18,464.4,16,468,12,472.6,11,478.4,13,487.8,12,493.7,8,502,17,504.2,17,510,10,517,6,525.3,13,532.4,8,542,4,551,7,556,5,562,7,566.4,5,572,11,578,7,584,8,590,4,597,15,604,11,608.5,12,613,6,620.3,17,623.8,11,629.6,12,636,4,639.7,5,645,17,648,15];

// ---------- Map scales ----------
const mapX = lon => 208.5 + (lon + 123) * 212.6;
const mapY = lat => 321 - (lat - 38) * 268;
const SVGNS = 'http://www.w3.org/2000/svg';

function svgEl(tag, parent) {
  const el = document.createElementNS(SVGNS, tag);
  parent.appendChild(el);
  return el;
}

const mapGrid = document.getElementById('map-grid');
const mapPanel = document.getElementById('map-panel');
lonTicks.forEach((lon, i) => {
  const line = svgEl('line', mapGrid);
  
  
  line.setAttribute('x1', mapX(lon)); line.setAttribute('x2', mapX(lon));
  line.setAttribute('y1', 26); line.setAttribute('y2', 724);
  line.setAttribute('stroke', '#d6d6d6'); line.setAttribute('stroke-width', 1.2);
  const label = svgEl('text', mapPanel);
  
  
  label.setAttribute('x', mapX(lon)); label.setAttribute('y', 752);
  label.setAttribute('font-size', 19.5); label.setAttribute('text-anchor', 'middle');
  label.textContent = lonTickLabels[i];
});
latTicks.forEach((lat, i) => {
  const line = svgEl('line', mapGrid);
  
  
  line.setAttribute('x1', 130); line.setAttribute('x2', 645);
  line.setAttribute('y1', mapY(lat)); line.setAttribute('y2', mapY(lat));
  line.setAttribute('stroke', '#d6d6d6'); line.setAttribute('stroke-width', 1.2);
  const label = svgEl('text', mapPanel);
  
  
  label.setAttribute('x', 121); label.setAttribute('y', mapY(lat) + 7);
  label.setAttribute('font-size', 19.5); label.setAttribute('text-anchor', 'end');
  label.textContent = latTickLabels[i];
});

const sites = document.getElementById('map-sites');
blueSiteLon.forEach((lon, i) => {
  const dot = svgEl('circle', sites);
  
  
  dot.setAttribute('cx', mapX(lon)); dot.setAttribute('cy', mapY(blueSiteLat[i]));
  dot.setAttribute('r', 8); dot.setAttribute('fill', '#0072BD');
});
orangeSiteLon.forEach((lon, i) => {
  const dot = svgEl('circle', sites);
  
  
  dot.setAttribute('cx', mapX(lon)); dot.setAttribute('cy', mapY(orangeSiteLat[i]));
  dot.setAttribute('r', 7); dot.setAttribute('fill', '#D95319');
  dot.setAttribute('stroke', '#4f6f6a'); dot.setAttribute('stroke-width', 1.5);
});

// ---------- Time-series panels ----------
const plotLeft = 806.7, plotRight = 2000.5, totalHours = 648;
const timeX = h => plotLeft + (h / totalHours) * (plotRight - plotLeft);

function drawAxes(panel, top, bottom, yMax, yTicks, yLabels) {
  const yOf = v => bottom - (v / yMax) * (bottom - top);
  const frame = svgEl('rect', panel);
  
  
  frame.setAttribute('x', plotLeft); frame.setAttribute('y', top);
  frame.setAttribute('width', plotRight - plotLeft); frame.setAttribute('height', bottom - top);
  frame.setAttribute('fill', 'none'); frame.setAttribute('stroke', '#a6a6a6'); frame.setAttribute('stroke-width', 2);
  yTicks.forEach((v, i) => {
    [[plotLeft, plotLeft + 11], [plotRight, plotRight - 11]].forEach(ends => {
      const tick = svgEl('line', panel);
      
      
      tick.setAttribute('x1', ends[0]); tick.setAttribute('x2', ends[1]);
      tick.setAttribute('y1', yOf(v)); tick.setAttribute('y2', yOf(v));
      tick.setAttribute('stroke', '#8f8f8f'); tick.setAttribute('stroke-width', 1.5);
    });
    const label = svgEl('text', panel);
    
    
    label.setAttribute('x', 798); label.setAttribute('y', yOf(v) + 7);
    label.setAttribute('font-size', 19.5); label.setAttribute('text-anchor', 'end');
    label.textContent = yLabels[i];
  });
  timeTicks.forEach((h, i) => {
    [[top, top + 11], [bottom, bottom - 11]].forEach(ends => {
      const tick = svgEl('line', panel);
      
      
      tick.setAttribute('x1', timeX(h)); tick.setAttribute('x2', timeX(h));
      tick.setAttribute('y1', ends[0]); tick.setAttribute('y2', ends[1]);
      tick.setAttribute('stroke', '#8f8f8f'); tick.setAttribute('stroke-width', 1.5);
    });
    const label = svgEl('text', panel);
    
    
    label.setAttribute('x', timeX(h)); label.setAttribute('y', bottom + 27);
    label.setAttribute('font-size', 19.5); label.setAttribute('text-anchor', 'middle');
    label.textContent = timeTickLabels[i];
  });
  return yOf;
}

function drawSeries(group, values, yOf, color, width, name) {
  let d = '';
  for (let i = 0; i + 1 < values.length; i += 2) {
    d += (i === 0 ? 'M' : 'L') + timeX(values[i]).toFixed(1) + ' ' + yOf(values[i + 1]).toFixed(1);
  }
  const path = svgEl('path', group);
  
  
  path.setAttribute('d', d);
  path.setAttribute('fill', 'none');
  path.setAttribute('stroke', color);
  path.setAttribute('stroke-width', width);
  path.setAttribute('stroke-linejoin', 'round');
  path.setAttribute('stroke-linecap', 'round');
}

const lineWidth = 3.7, medianWidth = 8;

const coPanel = document.getElementById('co-panel');
const coY = drawAxes(coPanel, 26, 320, 3, coTicks, coTickLabels);
const coLines = svgEl('g', coPanel);
coLines.setAttribute('clip-path', 'url(#co-clip)');


drawSeries(coLines, coGreen, coY, '#77AC30', lineWidth, 'co-line-green');
drawSeries(coLines, coYellow, coY, '#EDB120', lineWidth, 'co-line-yellow');
drawSeries(coLines, coOrange, coY, '#D95319', lineWidth, 'co-line-orange');
drawSeries(coLines, coGreenBand, coY, '#77AC30', lineWidth, 'co-line-green-band');
drawSeries(coLines, coYellowBand, coY, '#EDB120', lineWidth, 'co-line-yellow-band');
drawSeries(coLines, coCyan, coY, '#4DBEEE', lineWidth, 'co-line-cyan');
drawSeries(coLines, coCyanBand, coY, '#4DBEEE', lineWidth, 'co-line-cyan-band');
drawSeries(coLines, coDarkRed, coY, '#A2142F', lineWidth, 'co-line-dark-red');
drawSeries(coLines, coPurple, coY, '#7E2F8E', lineWidth, 'co-line-purple');
drawSeries(coLines, coPurpleBand, coY, '#7E2F8E', lineWidth, 'co-line-purple-band');
drawSeries(coLines, coBlack, coY, '#000000', medianWidth, 'co-line-median');

const pmPanel = document.getElementById('pm-panel');
const pmY = drawAxes(pmPanel, 433, 725, 60, pmTicks, pmTickLabels);
const pmLines = svgEl('g', pmPanel);
pmLines.setAttribute('clip-path', 'url(#pm-clip)');


drawSeries(pmLines, pmPurple, pmY, '#7E2F8E', lineWidth, 'pm-line-purple');
drawSeries(pmLines, pmBlue, pmY, '#0072BD', lineWidth, 'pm-line-blue');
drawSeries(pmLines, pmBlueBand, pmY, '#0072BD', lineWidth, 'pm-line-blue-band');
drawSeries(pmLines, pmOrange, pmY, '#D95319', lineWidth, 'pm-line-orange');
drawSeries(pmLines, pmOrangeBand, pmY, '#D95319', lineWidth, 'pm-line-orange-band');
drawSeries(pmLines, pmGreen, pmY, '#77AC30', lineWidth, 'pm-line-green');
drawSeries(pmLines, pmGreenBand, pmY, '#77AC30', lineWidth, 'pm-line-green-band');
drawSeries(pmLines, pmCyan, pmY, '#4DBEEE', lineWidth, 'pm-line-cyan');
drawSeries(pmLines, pmCyanBand, pmY, '#4DBEEE', lineWidth, 'pm-line-cyan-band');
drawSeries(pmLines, pmYellow, pmY, '#EDB120', lineWidth, 'pm-line-yellow');
drawSeries(pmLines, pmYellowBand, pmY, '#EDB120', lineWidth, 'pm-line-yellow-band');
drawSeries(pmLines, pmBlack, pmY, '#000000', medianWidth, 'pm-line-median');
</script>
</body>
</html>
